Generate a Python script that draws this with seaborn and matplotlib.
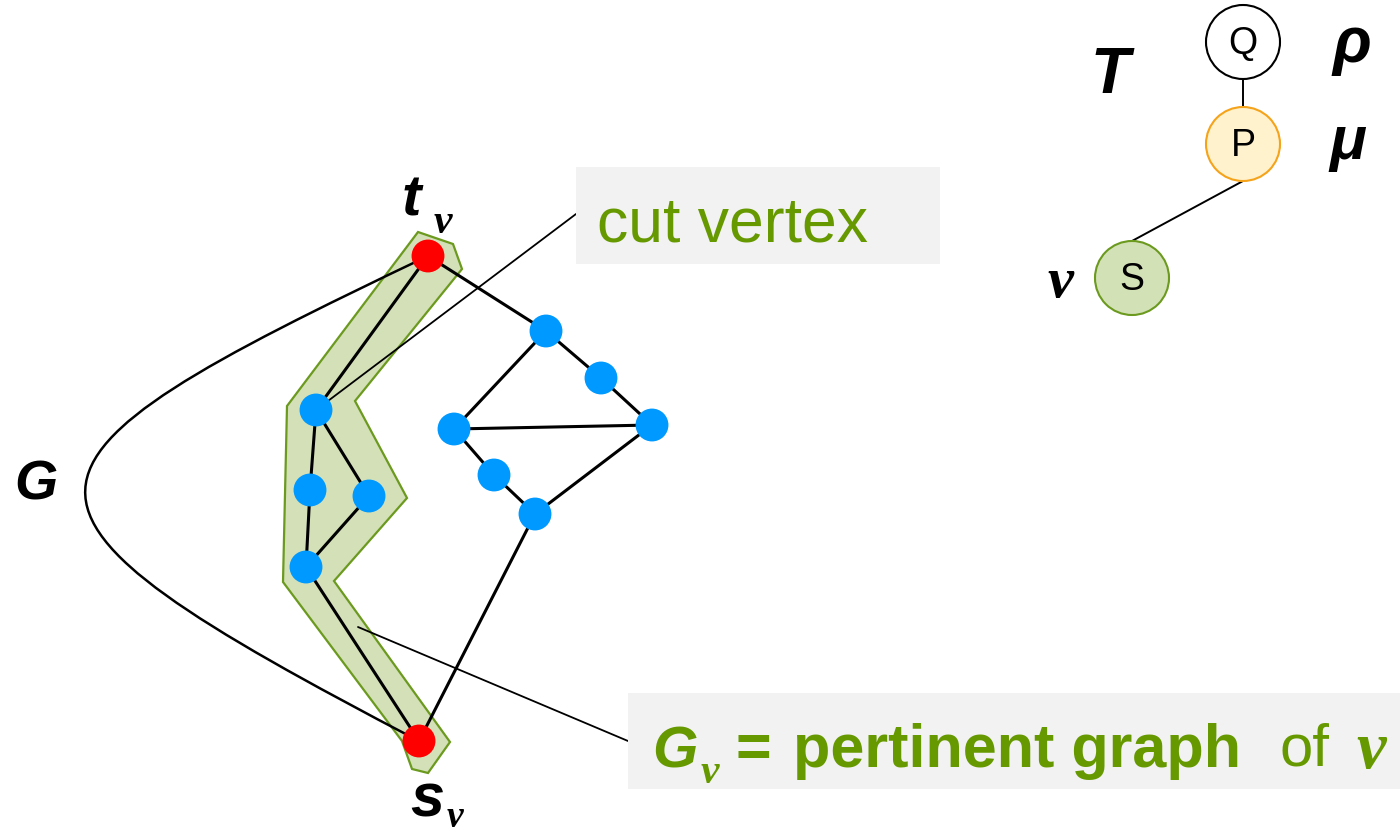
import numpy as np
import pandas as pd
import seaborn as sns
import matplotlib.pyplot as plt
from matplotlib.patches import Polygon, Circle, Rectangle, PathPatch
from matplotlib.path import Path

# graph G: vertices (pixel coords), poles t/s are red
node_x = [428, 419, 316, 310, 369, 306, 546, 601, 652, 454, 494, 535]
node_y = [257, 742, 411, 491, 497, 568, 332, 379, 426, 430, 476, 515]
node_kind = ["pole", "pole"] + ["inner"] * 10
edges = [(0, 2), (0, 6), (2, 3), (2, 4), (3, 5), (4, 5), (5, 1),
         (6, 7), (7, 8), (6, 9), (9, 8), (9, 10), (10, 11), (11, 8), (11, 1)]

# outline of the pertinent graph region
region_x = [418, 453, 462, 355, 407, 334, 450, 428, 412, 402, 283, 287]
region_y = [233, 245, 270, 402, 499, 582, 743, 774, 770, 742, 583, 407]

# the long t-s edge drawn as a curve
curve_ctrl = [(428, 257), (-20, 470), (-35, 505), (419, 742)]

# SPQR tree T
tree_x = [1243, 1243, 1132]
tree_y = [43, 145, 279]
tree_labels = ["Q", "P", "S"]
tree_fill = ["#ffffff", "#fff2cc", "#d3e1b7"]
tree_edge = ["#000000", "#f5a31a", "#6b9a1f"]
tree_links = [(0, 1), (1, 2)]
tree_r = 37

green = "#669900"
sans = "Liberation Sans"
serif = "Liberation Serif"

sns.set_theme(style="white")
plt.rcParams["font.family"] = [sans, "DejaVu Sans"]
plt.rcParams["text.color"] = "black"

fig = plt.figure(figsize=(14, 8.37), dpi=100)
ax = fig.add_axes([0, 0, 1, 1])

ax.add_patch(Polygon(list(zip(region_x, region_y)), closed=True,
                     facecolor="#d3e0b8", edgecolor="#6b9a1f", lw=1.6, zorder=1))

ax.add_patch(PathPatch(Path(curve_ctrl, [Path.MOVETO, Path.CURVE4, Path.CURVE4, Path.CURVE4]),
                       facecolor="none", edgecolor="black", lw=1.8, zorder=2))

for a, b in edges:
    ax.plot([node_x[a], node_x[b]], [node_y[a], node_y[b]], color="black", lw=2.2, zorder=2)

# callout lines
ax.plot([316, 576], [411, 215], color="black", lw=1.3, zorder=3)
ax.plot([358, 628], [628, 742], color="black", lw=1.3, zorder=3)

nodes = pd.DataFrame({"x": node_x, "y": node_y, "kind": node_kind})
sns.scatterplot(data=nodes, x="x", y="y", hue="kind", ax=ax, s=560, linewidth=0,
                palette={"pole": "#ff0000", "inner": "#0099ff"}, legend=False, zorder=4)
ax.set_xlim(0, 1400)
ax.set_ylim(837, 0)
ax.axis("off")

# label boxes
ax.add_patch(Rectangle((576, 168), 364, 97, facecolor="#f2f2f2", edgecolor="none", zorder=5))
ax.text(597, 241, "cut vertex", color=green, fontsize=45, ha="left", va="baseline", zorder=6)

ax.add_patch(Rectangle((628, 694), 780, 96, facecolor="#f2f2f2", edgecolor="none", zorder=5))
ax.text(652, 767, "G", color=green, fontsize=42, fontweight="bold", fontstyle="italic",
        ha="left", va="baseline", zorder=6)
ax.text(701, 783, "ν", color=green, fontsize=30, family=serif, fontweight="bold",
        fontstyle="italic", ha="left", va="baseline", zorder=6)
ax.text(736, 767, "=", color=green, fontsize=44, fontweight="bold", ha="left", va="baseline", zorder=6)
ax.text(793, 767, "pertinent graph", color=green, fontsize=44, fontweight="bold",
        ha="left", va="baseline", zorder=6)
ax.text(1279, 766, "of", color=green, fontsize=43, ha="left", va="baseline", zorder=6)
ax.text(1356, 768, "ν", color=green, fontsize=48, family=serif, fontweight="bold",
        fontstyle="italic", ha="left", va="baseline", zorder=6)

# tree
for a, b in tree_links:
    ax.plot([tree_x[a], tree_x[b]], [tree_y[a] + tree_r, tree_y[b] - tree_r],
            color="black", lw=1.4, zorder=2)
for x, y, lab, fc, ec in zip(tree_x, tree_y, tree_labels, tree_fill, tree_edge):
    ax.add_patch(Circle((x, y), tree_r, facecolor=fc, edgecolor=ec, lw=1.5, zorder=3))
    ax.text(x, y + 1, lab, fontsize=27, color="black", ha="center", va="center", zorder=4)

# math labels
bi = dict(fontweight="bold", fontstyle="italic", color="black")
ax.text(1090, 93, "T", fontsize=46, ha="left", va="baseline", **bi)
ax.text(1352, 46, "ρ", fontsize=46, ha="center", va="center", **bi)
ax.text(1348, 143, "μ", fontsize=44, ha="center", va="center", **bi)
ax.text(1060, 283, "ν", fontsize=42, family=serif, ha="center", va="center", **bi)
ax.text(36, 485, "G", fontsize=40, ha="center", va="center", **bi)
ax.text(402, 215, "t", fontsize=42, ha="left", va="baseline", **bi)
ax.text(434, 233, "ν", fontsize=30, family=serif, ha="left", va="baseline", **bi)
ax.text(410, 817, "s", fontsize=44, ha="left", va="baseline", **bi)
ax.text(447, 827, "ν", fontsize=27, family=serif, ha="left", va="baseline", **bi)

fig.savefig("out.png", dpi=100)
